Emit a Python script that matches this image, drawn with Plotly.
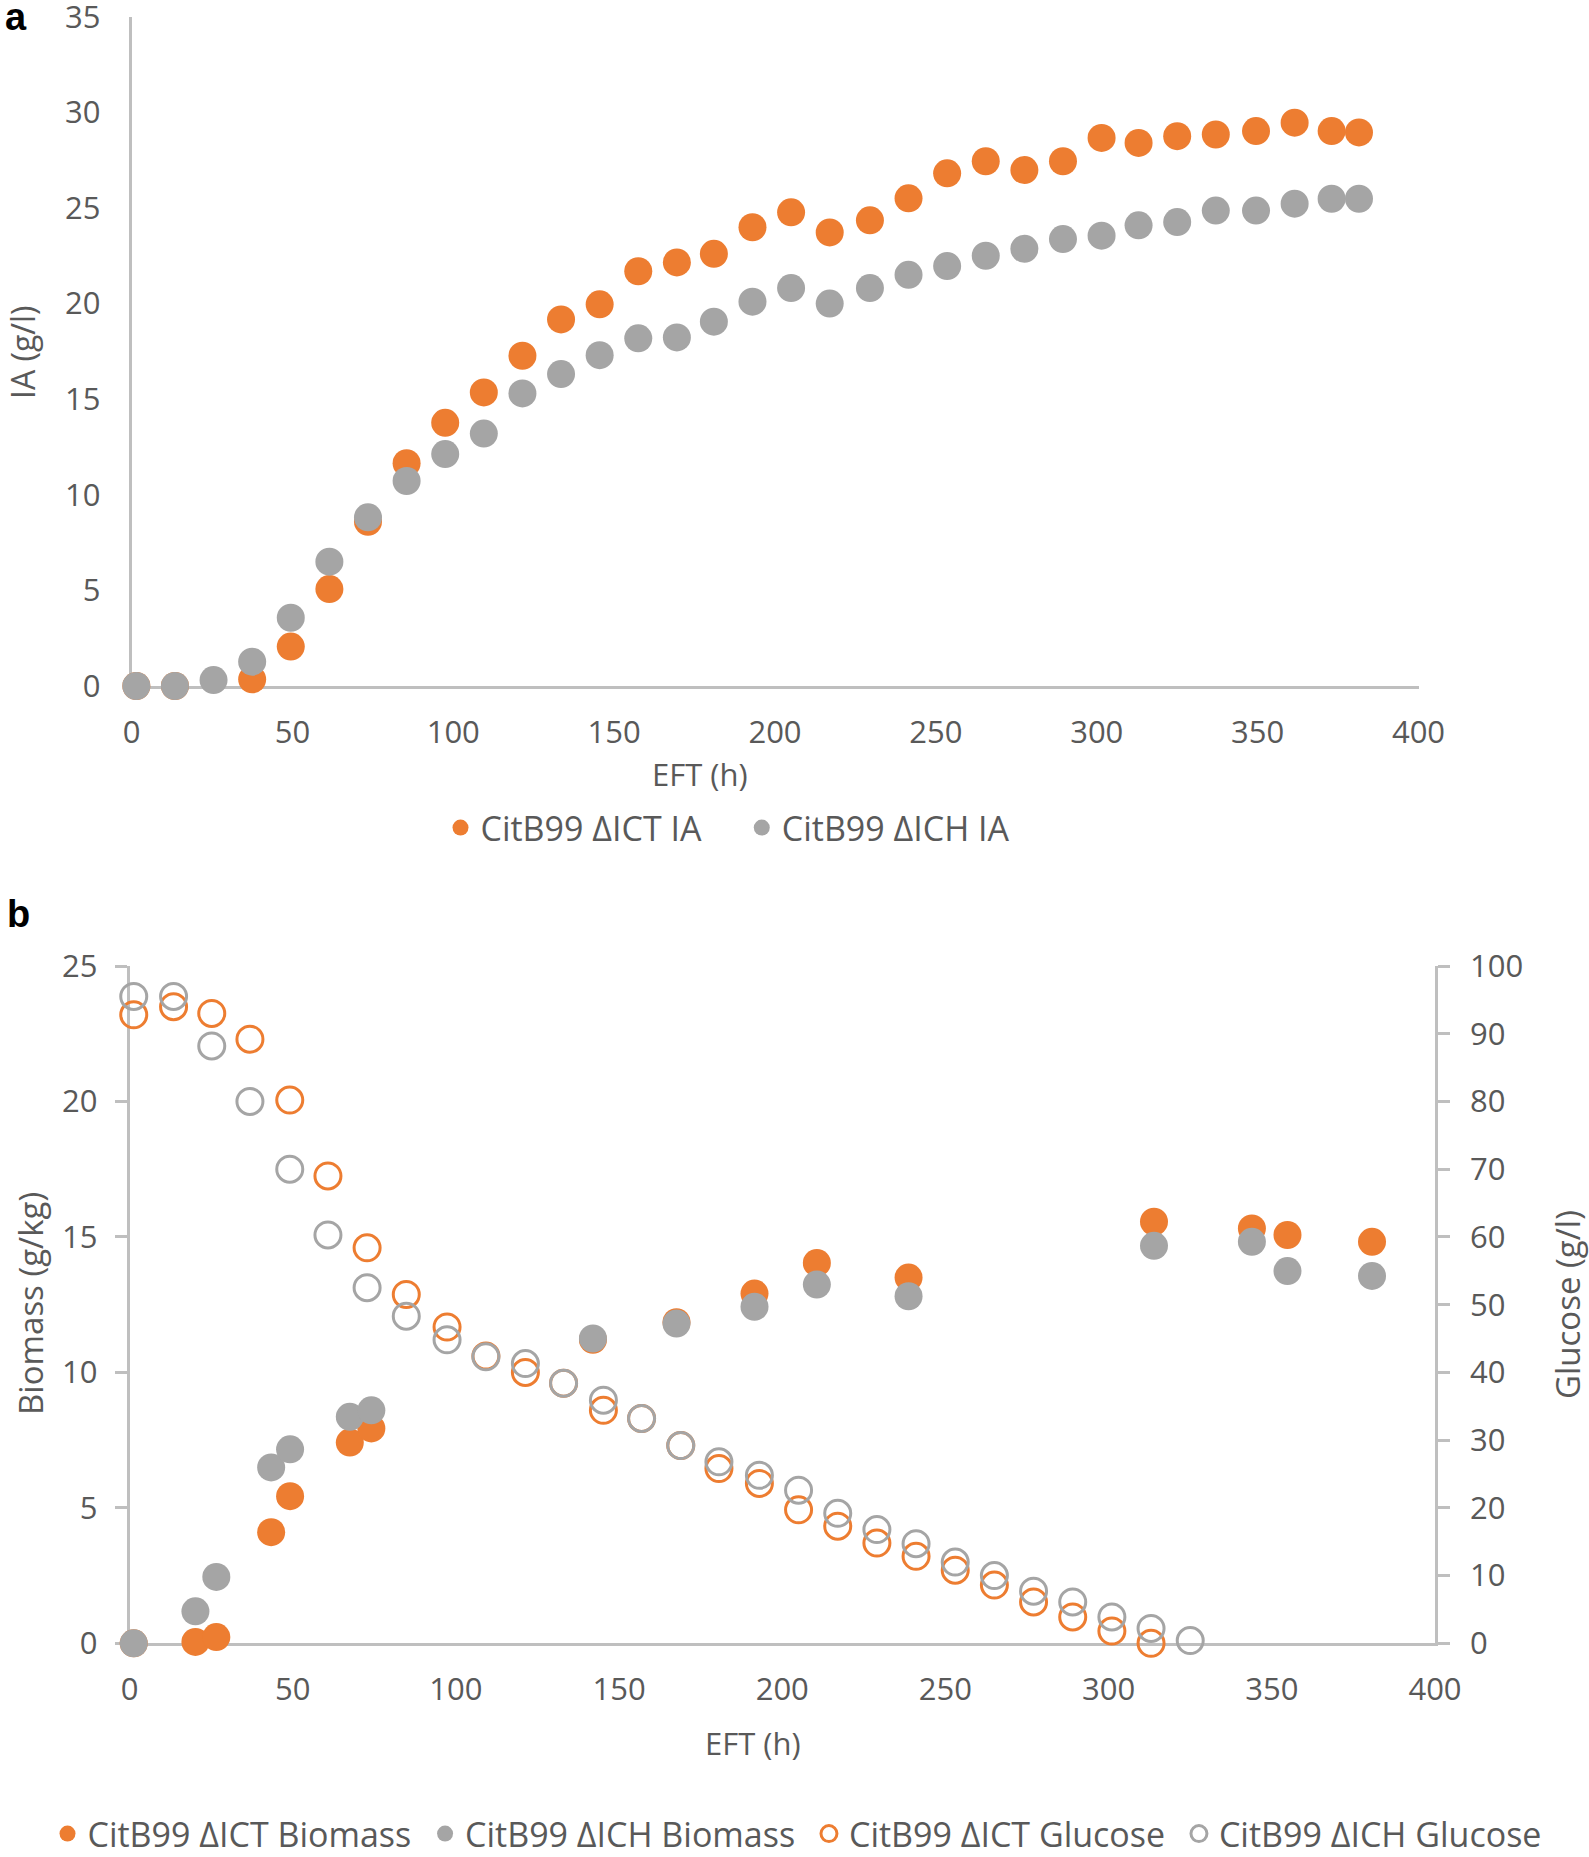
import plotly.graph_objects as go

# ---------------- Panel a data ----------------
a_time = [1.5, 13.5, 25.5, 37.5, 49.5, 61.5, 73.5, 85.5, 97.5, 109.5, 121.5, 133.5, 145.5,
          157.5, 169.5, 181, 193, 205, 217, 229.5, 241.5, 253.5, 265.5, 277.5, 289.5,
          301.5, 313, 325, 337, 349.5, 361.5, 373, 381.5]
ict_ia = [0, 0, -0.2, 0.35, 2.06, 5.07, 8.59, 11.65, 13.76, 15.35, 17.27, 19.17, 19.96,
          21.69, 22.15, 22.6, 23.99, 24.77, 23.72, 24.35, 25.5, 26.81, 27.44, 26.98, 27.44,
          28.66, 28.4, 28.75, 28.84, 29.02, 29.46, 29.02, 28.95]
ich_ia = [0, 0, 0.31, 1.27, 3.57, 6.5, 8.82, 10.72, 12.13, 13.2, 15.3, 16.31, 17.3,
          18.18, 18.23, 19.05, 20.1, 20.81, 20.0, 20.81, 21.5, 21.96, 22.5, 22.86, 23.37,
          23.55, 24.09, 24.26, 24.86, 24.86, 25.22, 25.48, 25.48]

# ---------------- Panel b data ----------------
bio_time = [1.3, 20.2, 26.6, 43.4, 49.2, 67.5, 74.1, 142, 167.6, 191.5, 210.6, 238.7,
            313.9, 343.9, 354.8, 380.7]
ict_biomass = [0, 0.05, 0.23, 4.1, 5.43, 7.41, 7.93, 11.2, 11.85, 12.91, 14.04, 13.5,
               15.56, 15.31, 15.07, 14.82]
ich_biomass = [0, 1.18, 2.45, 6.49, 7.16, 8.36, 8.6, 11.25, 11.8, 12.42, 13.24, 12.81,
               14.67, 14.82, 13.74, 13.56]

glc_time = [1.3, 13.5, 25.2, 36.9, 49.1, 60.8, 72.8, 84.8, 97.3, 109.2, 121.3, 133, 145.2,
            156.9, 168.9, 180.6, 193, 205, 217, 229, 241, 253, 265, 277, 289, 301, 313, 325]
ict_glucose = [92.8, 94.0, 93.0, 89.2, 80.2, 69.0, 58.4, 51.5, 46.7, 42.4, 40.0, 38.4, 34.4,
               33.2, 29.2, 25.8, 23.6, 19.7, 17.3, 14.8, 12.85, 10.8, 8.6, 6.1, 3.9, 1.8, 0]
ich_glucose = [95.5, 95.5, 88.2, 80.0, 70.0, 60.3, 52.5, 48.3, 44.8, 42.3, 41.3, 38.4, 35.9,
               33.2, 29.2, 26.8, 24.8, 22.6, 19.2, 16.8, 14.7, 12.0, 10.0, 7.7, 6.1, 3.9, 2.2, 0.4]

ORANGE = "#ED7D31"
GRAY = "#A5A5A5"
TXT = "#595959"
AXC = "#BFBFBF"
W, H = 1589, 1857
FONT = "Open Sans"
NB = "\u00a0"

fig = go.Figure()

# Panel a
fig.add_trace(go.Scatter(x=a_time, y=ict_ia, mode="markers", name="CitB99 ΔICT IA" + NB * 4,
                         marker=dict(color=ORANGE, size=28), cliponaxis=False,
                         xaxis="x", yaxis="y", legend="legend"))
fig.add_trace(go.Scatter(x=a_time, y=ich_ia, mode="markers", name="CitB99 ΔICH IA",
                         marker=dict(color=GRAY, size=28), cliponaxis=False,
                         xaxis="x", yaxis="y", legend="legend"))

# Panel b
fig.add_trace(go.Scatter(x=bio_time, y=ict_biomass, mode="markers",
                         name="CitB99 ΔICT Biomass" + NB,
                         marker=dict(color=ORANGE, size=28), cliponaxis=False,
                         xaxis="x2", yaxis="y2", legend="legend2"))
fig.add_trace(go.Scatter(x=bio_time, y=ich_biomass, mode="markers",
                         name="CitB99 ΔICH Biomass" + NB,
                         marker=dict(color=GRAY, size=28), cliponaxis=False,
                         xaxis="x2", yaxis="y2", legend="legend2"))
fig.add_trace(go.Scatter(x=glc_time[:len(ict_glucose)], y=ict_glucose, mode="markers",
                         name="CitB99 ΔICT Glucose" + NB,
                         marker=dict(color=ORANGE, size=26, symbol="circle-open", line=dict(width=3)),
                         cliponaxis=False, xaxis="x2", yaxis="y3", legend="legend2"))
fig.add_trace(go.Scatter(x=glc_time, y=ich_glucose, mode="markers", name="CitB99 ΔICH Glucose",
                         marker=dict(color=GRAY, size=26, symbol="circle-open", line=dict(width=3)),
                         cliponaxis=False, xaxis="x2", yaxis="y3", legend="legend2"))

tickfont = dict(family=FONT, size=31, color=TXT)


def px_x(p):
    return p / W


def px_y(p):
    return 1 - p / H


common = dict(showline=True, linecolor=AXC, linewidth=2.5, showgrid=False, zeroline=False,
              tickfont=tickfont, layer="below traces", automargin=False,
              ticklabeloverflow="allow")

fig.update_layout(
    width=W, height=H,
    template="none",
    paper_bgcolor="white", plot_bgcolor="rgba(0,0,0,0)",
    margin=dict(l=0, r=0, t=0, b=0, autoexpand=False),
    font=dict(family=FONT, color=TXT, size=31),
    xaxis=dict(domain=[px_x(131.5), px_x(1418.5)], range=[0, 400], dtick=50, tick0=0,
               ticks="", ticklabelstandoff=17, anchor="y", **common),
    yaxis=dict(domain=[px_y(686), px_y(16.7)], range=[0, 35], dtick=5, tick0=0,
               ticks="", ticklabelstandoff=22, anchor="x", **common),
    xaxis2=dict(domain=[px_x(129.5), px_x(1435)], range=[0, 400], dtick=50, tick0=0,
                ticks="", ticklabelstandoff=17, anchor="y2", **common),
    yaxis2=dict(domain=[px_y(1643.3), px_y(966)], range=[0, 25], dtick=5, tick0=0,
                ticks="outside", ticklen=12, tickwidth=2.5, tickcolor=AXC,
                ticklabelstandoff=11, anchor="x2", **common),
    yaxis3=dict(range=[0, 100], dtick=10, tick0=0, overlaying="y2", side="right",
                ticks="outside", ticklen=12, tickwidth=2.5, tickcolor=AXC,
                ticklabelstandoff=14, anchor="x2", **common),
    legend=dict(orientation="h", x=px_x(728), xanchor="center", y=px_y(828), yanchor="middle",
                font=dict(family=FONT, size=34, color=TXT), bgcolor="rgba(0,0,0,0)",
                itemsizing="trace"),
    legend2=dict(orientation="h", x=px_x(797), xanchor="center", y=px_y(1834), yanchor="middle",
                 font=dict(family=FONT, size=34, color=TXT), bgcolor="rgba(0,0,0,0)",
                 itemsizing="trace"),
)

ann = [
    dict(text="<b>a</b>", x=px_x(16), y=1, xanchor="center", yanchor="top", yshift=6,
         font=dict(family="Liberation Sans", size=38, color="black")),
    dict(text="<b>b</b>", x=px_x(18), y=px_y(914), xanchor="center", yanchor="middle",
         font=dict(family="Liberation Sans", size=38, color="black")),
    dict(text="EFT (h)", x=px_x(700), y=px_y(774), xanchor="center", yanchor="middle",
         font=dict(family=FONT, size=31, color=TXT)),
    dict(text="IA (g/l)", x=px_x(22), y=px_y(352), xanchor="center", yanchor="middle",
         textangle=-90, font=dict(family=FONT, size=32, color=TXT)),
    dict(text="EFT (h)", x=px_x(753), y=px_y(1743), xanchor="center", yanchor="middle",
         font=dict(family=FONT, size=31, color=TXT)),
    dict(text="Biomass (g/kg)", x=px_x(30), y=px_y(1304), xanchor="center", yanchor="middle",
         textangle=-90, font=dict(family=FONT, size=33, color=TXT)),
    dict(text="Glucose (g/l)", x=px_x(1567), y=px_y(1305), xanchor="center", yanchor="middle",
         textangle=-90, font=dict(family=FONT, size=33, color=TXT)),
]
for a in ann:
    a.update(xref="paper", yref="paper", showarrow=False)
fig.update_layout(annotations=ann)

fig.write_html("out.html", config={"displayModeBar": False},
               post_script="document.body.style.margin='0';document.body.style.overflow='hidden';")
